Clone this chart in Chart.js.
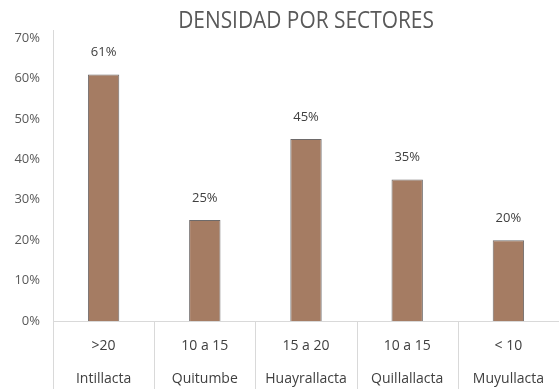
<!DOCTYPE html>
<html>
<head>
<meta charset="utf-8">
<script src="https://cdn.jsdelivr.net/npm/chart.js@4.4.1/dist/chart.umd.min.js"></script>
<style>
  html, body { margin: 0; padding: 0; background: #fff; }
  #wrap { width: 559px; height: 389px; }
</style>
</head>
<body>
<div id="wrap"><canvas id="densidadChart"></canvas></div>
<script>
const rangos = ['>20', '10 a 15', '15 a 20', '10 a 15', '< 10']
const sectores = ['Intillacta', 'Quitumbe', 'Huayrallacta', 'Quillallacta', 'Muyullacta']
const densidad = [61, 25, 45, 35, 20]
const yTicks = [0, 10, 20, 30, 40, 50, 60, 70]

const FONT = "'Open Sans', sans-serif"

// title centred over the plot area, value labels above bars, category separators
const extras = {
    id: 'extras',
    afterDraw(chart) {
        const { ctx, chartArea, scales } = chart
        const x = scales.x
        ctx.save()

        // narrow title
        ctx.save()
        ctx.fillStyle = '#595959'
        ctx.font = `24px ${FONT}`
        ctx.textAlign = 'center'
        ctx.textBaseline = 'middle'
        const cx = (chartArea.left + chartArea.right) / 2
        ctx.translate(cx, 21)
        ctx.scale(0.87, 1)
        ctx.fillText('DENSIDAD POR SECTORES', 0, 0)
        ctx.restore()

        ctx.strokeStyle = '#d9d9d9'
        ctx.lineWidth = 1
        const step = x.getPixelForValue(1) - x.getPixelForValue(0)
        for (let i = 0; i <= sectores.length; i++) {
            const px = Math.round(x.getPixelForValue(i) - step / 2) + 0.5
            ctx.beginPath()
            ctx.moveTo(px, i === 0 ? chartArea.top - 8 : chartArea.bottom)
            ctx.lineTo(px, chart.height)
            ctx.stroke()
        }
        ctx.beginPath()
        ctx.moveTo(chartArea.left, Math.round(chartArea.bottom) + 0.5)
        ctx.lineTo(chartArea.right, Math.round(chartArea.bottom) + 0.5)
        ctx.stroke()

        ctx.fillStyle = '#404040'
        ctx.font = `13px ${FONT}`
        ctx.textAlign = 'center'
        ctx.textBaseline = 'middle'
        const meta = chart.getDatasetMeta(0)
        meta.data.forEach((bar, i) => {
            ctx.fillText(densidad[i] + '%', bar.x, bar.y - 22)
        })
        ctx.restore()
    }
}

new Chart(document.getElementById('densidadChart'), {
    type: 'bar',
    data: {
        labels: rangos.map((r, i) => [r, sectores[i]]),
        datasets: [{
            data: densidad,
            backgroundColor: '#a57c63',
            borderColor: '#6e6a6a',
            borderWidth: 1,
            categoryPercentage: 1,
            barPercentage: 0.31
        }]
    },
    options: {
        responsive: true,
        maintainAspectRatio: false,
        animation: false,
        layout: { padding: { top: 38, left: 0, right: 0, bottom: 0 } },
        plugins: {
            legend: { display: false },
            tooltip: { enabled: false }
        },
        scales: {
            x: {
                grid: { display: false },
                border: { display: false },
                ticks: {
                    color: '#404040',
                    font: { family: FONT, size: 14, lineHeight: 2.36 },
                    padding: 0,
                    maxRotation: 0
                },
                afterFit(scale) { scale.height = 68 }
            },
            y: {
                min: 0,
                max: 70,
                afterBuildTicks(scale) { scale.ticks = yTicks.map(v => ({ value: v })) },
                grid: { display: false },
                border: { display: false },
                ticks: {
                    color: '#595959',
                    font: { family: FONT, size: 13 },
                    padding: 5,
                    callback: v => v + '%'
                },
                afterFit(scale) { scale.width = 53 }
            }
        }
    },
    plugins: [extras]
})
</script>
</body>
</html>
